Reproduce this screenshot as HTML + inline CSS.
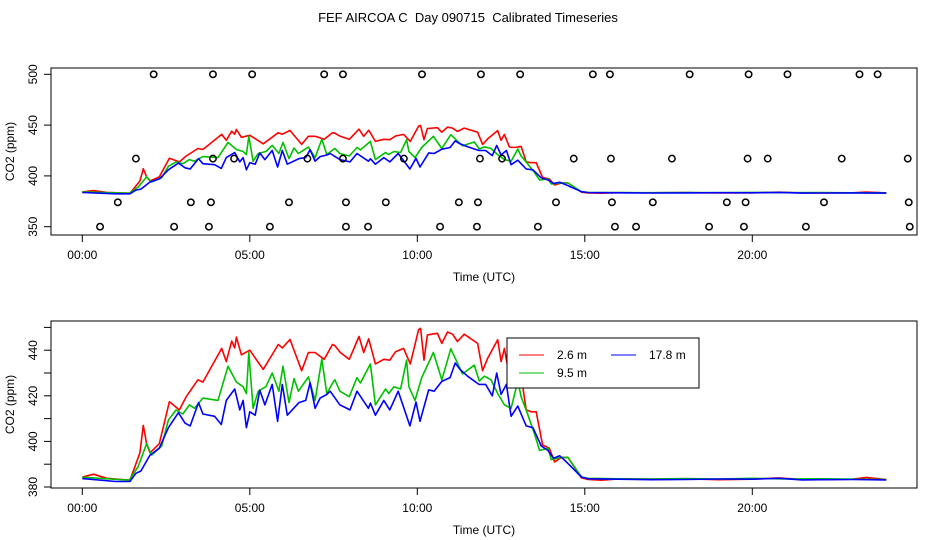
<!DOCTYPE html>
<html><head><meta charset="utf-8">
<style>
html,body{margin:0;padding:0;background:#fff;}
svg{display:block;font-family:"Liberation Sans",Arial,sans-serif;}
</style></head>
<body>
<svg id="chart" width="936" height="540" viewBox="0 0 936 540" xmlns="http://www.w3.org/2000/svg">
<text x="468" y="22" font-size="13" text-anchor="middle" style="white-space:pre">FEF AIRCOA C  Day 090715  Calibrated Timeseries</text>
<g id="topPanel"></g>
<g id="botPanel"></g>
</svg>
<script>
// ---- data (hours UTC, CO2 ppm) ----
const redHours = [0,0.33,0.73,1.42,1.57,1.72,1.82,1.92,2.02,2.3,2.6,2.9,3.1,3.45,3.6,4.16,4.3,4.46,4.55,4.6,4.75,5.0,5.4,5.85,5.97,6.2,6.55,6.75,6.95,7.22,7.47,7.54,7.7,7.97,8.26,8.4,8.55,8.75,9.0,9.18,9.35,9.59,9.79,10.04,10.1,10.2,10.3,10.6,10.73,10.9,11.05,11.2,11.4,11.8,11.95,12.1,12.4,12.5,12.6,12.75,12.9,13.1,13.25,13.4,13.55,13.74,13.94,14.1,14.3,14.5,14.9,15.1,15.5,16,17,18,19,20,20.8,21.5,22,23,23.4,24];
const redVals  = [384.3,385.6,383.8,383,388.9,395,407,399,395,399,417.4,413.8,419.6,427,426,440.8,435,444,441,445.7,438,440,431.6,442.5,441,444.7,431,439,439,436,442.5,442,439,436,446,439,445,434,436,435.6,439.3,440.8,434,449,449.6,435.6,446.7,447.4,443,448,447,443.8,447,443,431,436.4,444.6,435,440.8,428.4,428,429,413.8,413,413,398.4,397,391,393,393,384,383.3,383,383.5,383.4,383.6,383.2,383.4,384,383.3,383.2,383.4,384.2,383.3];
const greenHours = [0,1.4,1.67,1.92,2.07,2.37,2.57,2.8,3.0,3.2,3.35,3.6,4.05,4.35,4.6,4.8,4.9,4.97,5.1,5.25,5.48,5.67,5.87,5.99,6.17,6.32,6.45,6.75,6.95,7.15,7.3,7.5,7.54,7.69,7.97,8.2,8.3,8.6,8.75,9.05,9.15,9.3,9.5,9.68,9.75,9.93,10.13,10.48,10.73,11.0,11.35,11.7,11.85,12.0,12.2,12.4,12.6,12.8,13.0,13.1,13.27,13.5,13.65,13.9,14.0,14.3,14.5,14.9,15.1,16,17,18,19,20,21,22,23,24];
const greenVals  = [384.3,383,389,399,394,398,409.4,413.8,412,416,414.5,419,418,433,426,424,421,439,414.5,422,424,430,422,433,417,427.5,422,428.3,418,436,421,426.3,427,422,419.6,428,425.6,434,416,423,421,424,423,435.6,424,418,428,439,427,440.6,429.6,433.4,426.5,428.6,427,421,416,414.5,426.5,419.6,413,403.3,396,397,392,393,393,384.4,383.8,383.6,383.5,383.7,383.5,383.8,383.5,383.6,383.4,383.3];
const blueHours = [0,1.0,1.42,1.6,1.75,2.02,2.3,2.57,2.87,3.07,3.22,3.47,3.6,3.95,4.15,4.3,4.55,4.7,4.8,4.9,5.0,5.16,5.3,5.45,5.67,5.83,5.97,6.12,6.47,6.67,6.8,6.95,7.1,7.3,7.4,7.69,7.99,8.2,8.54,8.6,8.75,9.0,9.18,9.43,9.78,9.96,10.08,10.34,10.5,10.73,10.98,11.13,11.28,11.5,11.84,12.04,12.24,12.37,12.5,12.66,12.8,13.0,13.25,13.45,13.7,13.9,14.07,14.25,14.45,14.9,15.1,16,17,18,19,20,20.8,21.5,22,23,24];
const blueVals  = [383.7,382.4,382.4,386,387,394,397,406,412.6,408,406.8,417,412,411,407.4,418,423,413.8,418,406,413,411.5,422.5,416,425,408.8,425,411.5,417,418,425.7,414.5,419,420.6,422,416,413.8,422,414.5,416.8,411.5,418,413.8,422,406.8,417.3,408.8,422.6,422,426.3,428,434.4,431.5,428.6,425,425,420,430,420.6,425,411,415.5,406.8,406,398,396,392.6,393.7,391,384.4,383.6,383.4,383.2,383.3,383.5,383.4,383.8,383.1,383.2,383.3,383.1];
// flag markers (hours) on four levels
const flag500 = [2.13,3.9,5.07,7.22,7.78,10.14,11.9,13.07,15.24,15.75,18.13,19.89,21.05,23.2,23.74];
const flag417 = [1.6,3.9,4.53,6.72,7.78,9.6,11.87,12.53,14.67,15.78,17.6,19.86,20.46,22.67,24.64];
const flag374 = [1.06,3.24,3.84,6.17,7.87,9.06,11.24,11.81,14.14,15.81,17.03,19.24,19.8,22.14,24.67];
const flag350 = [0.53,2.74,3.78,5.6,7.87,8.53,10.68,11.78,13.6,15.9,16.53,18.71,19.75,21.6,24.7];
const flagLevels = [500,417,374,350];
const xTickHours = [0,5,10,15,20];
const xTickLabels = ["00:00","05:00","10:00","15:00","20:00"];
const topTicks = [350,400,450,500];
const botTicks = [380,390,400,410,420,430,440,450];
const botLabels = [380,400,420,440];

const NS="http://www.w3.org/2000/svg";
function mk(parent,tag,attrs){const e=document.createElementNS(NS,tag);for(const k in attrs)e.setAttribute(k,attrs[k]);parent.appendChild(e);return e;}
const xs = h => 82.3 + h*33.5;

function panel(g, box, yScale, yTicks, yLabels, tag){
  const r=mk(g,'rect',{x:box.l,y:box.t,width:box.r-box.l,height:box.b-box.t,fill:'none',stroke:'#000','stroke-width':1});
  
  
  xTickHours.forEach((h,i)=>{
    const t=mk(g,'line',{x1:xs(h),x2:xs(h),y1:box.b,y2:box.b+7,stroke:'#000'});
    
    
    const tx=mk(g,'text',{x:xs(h),y:box.b+24,'font-size':12,'text-anchor':'middle'});
    tx.textContent=xTickLabels[i];
    
    
  });
  const xl=mk(g,'text',{x:484,y:box.b+46,'font-size':12,'text-anchor':'middle'});
  xl.textContent='Time (UTC)';
  
  
  yTicks.forEach(v=>{
    const y=yScale(v);
    const t=mk(g,'line',{x1:box.l-7,x2:box.l,y1:y,y2:y,stroke:'#000'});
    
    
  });
  yLabels.forEach(v=>{
    const y=yScale(v);
    const tx=mk(g,'text',{x:0,y:0,'font-size':12,'text-anchor':'middle',transform:`translate(${box.l-14},${y}) rotate(-90)`});
    tx.textContent=v;
    
    
  });
  const yl=mk(g,'text',{x:0,y:0,'font-size':12,'text-anchor':'middle',transform:`translate(14,${(box.t+box.b)/2}) rotate(-90)`});
  yl.textContent='CO2 (ppm)';
  
  
  const series=[[redHours,redVals,'#ff0000','red'],[greenHours,greenVals,'#00c000','green'],[blueHours,blueVals,'#0000ff','blue']];
  series.forEach(s=>{
    const pts=s[0].map((h,i)=>xs(h).toFixed(1)+','+yScale(s[1][i]).toFixed(1)).join(' ');
    const p=mk(g,'polyline',{points:pts,fill:'none',stroke:s[2],'stroke-width':1.6,'stroke-linejoin':'round'});
    
    
  });
}

const topG=document.getElementById('topPanel');
const topBox={l:51,r:917,t:68,b:235};
const yTop=v=>74.3-(v-500)*1.016;
panel(topG,topBox,yTop,topTicks,topTicks,'top');
[flag500,flag417,flag374,flag350].forEach((arr,k)=>{
  arr.forEach(h=>{
    const c=mk(topG,'circle',{cx:xs(h),cy:yTop(flagLevels[k]),r:3.2,fill:'none',stroke:'#000','stroke-width':1.5});
    
    
  });
});

const botG=document.getElementById('botPanel');
const botBox={l:51,r:917,t:321,b:488};
const yBot=v=>487-(v-380)*2.28;
panel(botG,botBox,yBot,botTicks,botLabels,'bottom');

// legend
const lg=mk(botG,'g',{});


mk(lg,'rect',{x:507,y:338,width:192,height:50,fill:'#fff',stroke:'#000','stroke-width':1});
const entries=[['2.6 m','#ff0000',519,355,557],['17.8 m','#0000ff',611,355,649],['9.5 m','#00c000',519,373,557]];
entries.forEach(e=>{
  const l=mk(lg,'line',{x1:e[2],x2:e[2]+25,y1:e[3],y2:e[3],stroke:e[1],'stroke-width':1});
  
  
  const t=mk(lg,'text',{x:e[4],y:e[3]+4,'font-size':12});
  t.textContent=e[0];
  
  
});
</script>
</body></html>
